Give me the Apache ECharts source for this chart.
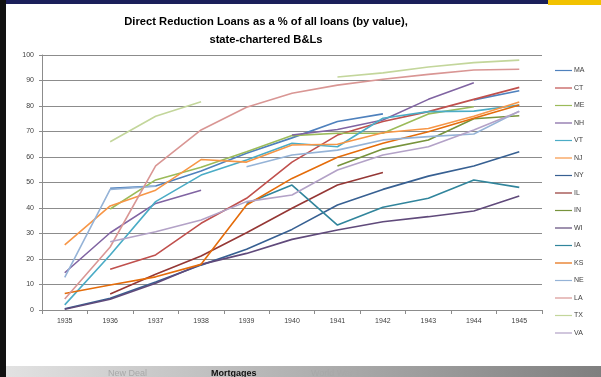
<!DOCTYPE html>
<html>
<head>
<meta charset="utf-8">
<script src="https://cdn.jsdelivr.net/npm/echarts@6/dist/echarts.min.js"></script>
<style>
  html, body { margin: 0; padding: 0; background: #fff; }
  #chart { width: 601px; height: 377px; }
</style>
</head>
<body>
<div id="chart"></div>
<script>
// Years on the horizontal axis
const years = ['1935','1936','1937','1938','1939','1940','1941','1942','1943','1944','1945'];

// Direct reduction loans, % of all loans by value (null = not reported)
const MA = [null, 47.7, 48.6, 54.5, 61.5, 67.5, 73.9, 76.9, null, 82.4, 86.0];
const CT = [null, 16.0, 21.6, 34.0, 43.8, 58.0, 68.6, 73.9, 77.8, 82.6, 87.3];
const ME = [null, 39.6, 51.0, 56.0, 62.1, 68.4, 69.3, 69.3, 76.9, 79.7, null];
const NH = [14.6, 30.3, 41.8, 47.0, null, 68.6, 70.8, 74.5, 82.6, 89.1, null];
const VT = [2.0, 21.6, 42.5, 52.9, 58.8, 65.4, 64.0, 75.2, 77.8, 78.0, 80.4];
const NJ = [25.5, 40.8, 47.0, 59.0, 58.0, 64.7, 65.0, 69.5, 71.2, 76.0, 81.6];
const NY = [0.5, 4.6, 11.0, 17.6, 23.8, 31.6, 41.2, 47.3, 52.5, 56.5, 62.1];
const IL = [null, 6.3, 14.0, 21.2, 30.3, 39.9, 49.0, 53.9, null, null, null];
const IN = [null, null, null, null, null, null, 56.5, 63.1, 66.7, 75.0, 76.2];
const WI = [0.3, 4.2, 10.5, 17.9, 22.2, 27.7, 31.4, 34.6, 36.6, 38.8, 44.7];
const IA = [null, null, null, null, 41.8, 49.0, 33.3, 40.3, 43.8, 51.0, 48.1];
const KS = [6.5, 9.8, 13.0, 17.9, 41.2, 51.6, 59.9, 65.4, 69.9, 75.2, 80.4];
const NE = [12.8, 47.3, 48.5, null, 56.2, 60.8, 62.7, 66.7, 68.0, 69.0, 78.0];
const LA = [4.3, 24.7, 56.5, 70.6, 79.5, 85.0, 88.2, 90.5, 92.4, 94.1, 94.4];
const TX = [null, 66.0, 76.0, 81.7, null, null, 91.4, 93.0, 95.3, 97.0, 98.0];
const VA = [null, 26.8, 30.7, 35.3, 42.5, 45.1, 54.9, 60.8, 64.0, 70.6, 77.8];

const states = ['MA','CT','ME','NH','VT','NJ','NY','IL','IN','WI','IA','KS','NE','LA','TX','VA'];
const values = [MA, CT, ME, NH, VT, NJ, NY, IL, IN, WI, IA, KS, NE, LA, TX, VA];
const colors = [
  '#4F81BD','#C0504D','#9BBB59','#8064A2','#4BACC6','#F79646',
  '#376092','#953735','#77933C','#604A7B','#31859C','#E46C0A',
  '#95B3D7','#D99694','#C3D69B','#B3A2C7'
];

const font = '"Liberation Sans", Arial, sans-serif';
const chart = echarts.init(document.getElementById('chart'));

chart.setOption({
  animation: false,
  color: colors,
  title: {
    text: 'Direct Reduction Loans as a % of all loans (by value),\nstate-chartered B&Ls',
    left: 261,
    textAlign: 'center',
    top: 8,
    textStyle: { fontFamily: font, fontSize: 11.2, fontWeight: 'bold', color: '#000', lineHeight: 18 }
  },
  legend: {
    orient: 'vertical',
    left: 555,
    top: 67,
    padding: 0,
    itemWidth: 17,
    itemHeight: 8,
    itemGap: 10.5,
    data: states.map(s => ({ name: s, icon: 'path://M0,3.4 L17,3.4 L17,4.6 L0,4.6 Z' })),
    textStyle: { fontFamily: font, fontSize: 7, color: '#404040', padding: [0, 0, 0, -3] }
  },
  grid: { left: 42, right: 59, top: 55, bottom: 67, containLabel: false },
  xAxis: {
    type: 'category',
    data: years,
    boundaryGap: true,
    axisLine: { lineStyle: { color: '#8c8c8c', width: 1 } },
    axisTick: { show: true, interval: 0, length: 4, lineStyle: { color: '#8c8c8c' } },
    axisLabel: { fontFamily: font, fontSize: 7, color: '#404040', margin: 8 }
  },
  yAxis: {
    type: 'value',
    min: 0, max: 100, interval: 10,
    axisLine: { show: true, lineStyle: { color: '#8c8c8c', width: 1 } },
    axisTick: { show: true, length: 3, lineStyle: { color: '#8c8c8c' } },
    axisLabel: { fontFamily: font, fontSize: 7, color: '#404040', margin: 8 },
    splitLine: { lineStyle: { color: '#8c8c8c', width: 1 } }
  },
  series: states.map((s, i) => ({
    name: s,
    type: 'line',
    data: values[i],
    symbol: 'none',
    connectNulls: false,
    lineStyle: { width: 1.6, color: colors[i] },
    itemStyle: { color: colors[i] }
  })),
  graphic: [
    { type: 'rect', shape: { x: 0, y: 0, width: 548, height: 4 }, style: { fill: '#1b1f5a' }, silent: true },
    { type: 'rect', shape: { x: 548, y: 0, width: 53, height: 5 }, style: { fill: '#f2c200' }, silent: true },
    { type: 'rect', shape: { x: 0, y: 0, width: 6, height: 377 }, style: { fill: '#111' }, silent: true },
    {
      type: 'rect', shape: { x: 6, y: 366, width: 595, height: 11 },
      style: {
        fill: new echarts.graphic.LinearGradient(0, 0, 1, 0, [
          { offset: 0, color: '#e2e2e2' }, { offset: 1, color: '#7f7f7f' }
        ])
      },
      silent: true
    },
    { type: 'text', x: 108, y: 369, style: { text: 'New Deal', fontFamily: font, fontSize: 9, fill: '#a8a8a8' }, silent: true },
    { type: 'text', x: 211, y: 369, style: { text: 'Mortgages', fontFamily: font, fontSize: 9, fontWeight: 'bold', fill: '#111' }, silent: true },
    { type: 'text', x: 311, y: 369, style: { text: 'World War II', fontFamily: font, fontSize: 9, fill: '#a8a8a8' }, silent: true }
  ]
});
</script>
</body>
</html>
